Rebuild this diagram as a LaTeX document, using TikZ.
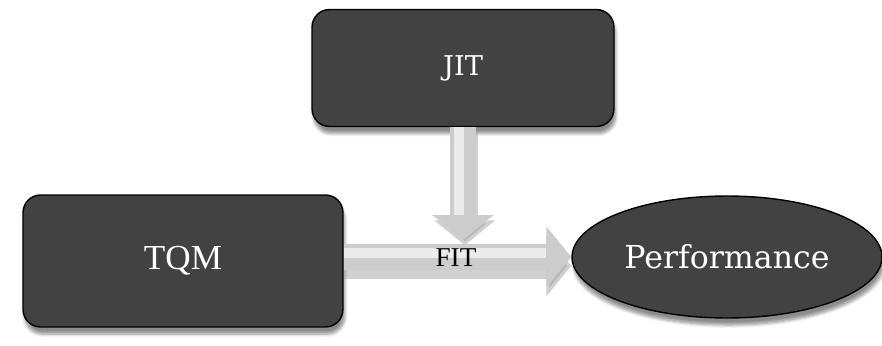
\documentclass[tikz,border=0pt]{standalone}
\usepackage{fontspec}
\setmainfont{Liberation Serif}
\newfontfamily\slabfont{DejaVu Serif}
\usetikzlibrary{arrows.meta,shapes.geometric,shadows.blur}
\tikzset{
	darkbox/.style={draw=black, line width=0.8pt, fill=black!74, text=white,
		blur shadow={shadow xshift=1pt, shadow yshift=-4pt, shadow blur steps=6, shadow opacity=45}},
	blockshadow/.style={line width=26*0.02cm, draw=black!40, opacity=0.45,
		-{Triangle[length=0.5cm, width=1.2cm]}},
	blockarrow/.style={line width=26*0.02cm, draw=black!20,
		-{Triangle[length=0.5cm, width=1.2cm]}},
	blockshine/.style={line width=10*0.02cm, draw=black!8, shorten >=0.5cm},
}
\begin{document}
\begin{tikzpicture}[x=0.02cm, y=-0.02cm, line join=round]
		% KHUNG
		\useasboundingbox (0,0) rectangle (882,345);
		
		% 1. Các khối
		\node[darkbox, rounded corners=10pt, minimum width=6.04cm, minimum height=2.34cm,
			font=\slabfont\fontsize{15.5}{18}\selectfont] (jit) at (463,68) {JIT};
		\node[darkbox, rounded corners=10pt, minimum width=6.4cm, minimum height=2.64cm,
			font=\fontsize{20}{24}\selectfont] (tqm) at (183,261) {TQM};
		\node[darkbox, ellipse, minimum width=6.2cm, minimum height=2.44cm, inner sep=0pt,
			font=\slabfont\fontsize{18}{22}\selectfont] (perf) at (727,257) {Performance};
		
		% 2. Điểm nối
		\coordinate (join) at (463,240);
		\coordinate (start) at (tqm.east |- perf.west);
		
		% 3. Mũi tên khối (bóng trước)
		\draw[blockshadow] ([yshift=-5pt]start) -- ([yshift=-5pt]perf.west);
		\draw[blockshadow] ([xshift=1pt, yshift=-3pt]jit.south) -- ([xshift=1pt, yshift=-3pt]join);
		\draw[blockarrow] (start) -- (perf.west);
		\draw[blockarrow] (jit.south) -- (join);
		\draw[blockshine] ([yshift=2pt]start) -- ([yshift=2pt]perf.west);
		\draw[blockshine] ([xshift=-2pt]jit.south) -- ([xshift=-2pt]join);
		
		% 4. Nhãn
		\node[font=\fontsize{15.5}{18}\selectfont] (fit) at (456,258) {FIT};
	\end{tikzpicture}
\end{document}
